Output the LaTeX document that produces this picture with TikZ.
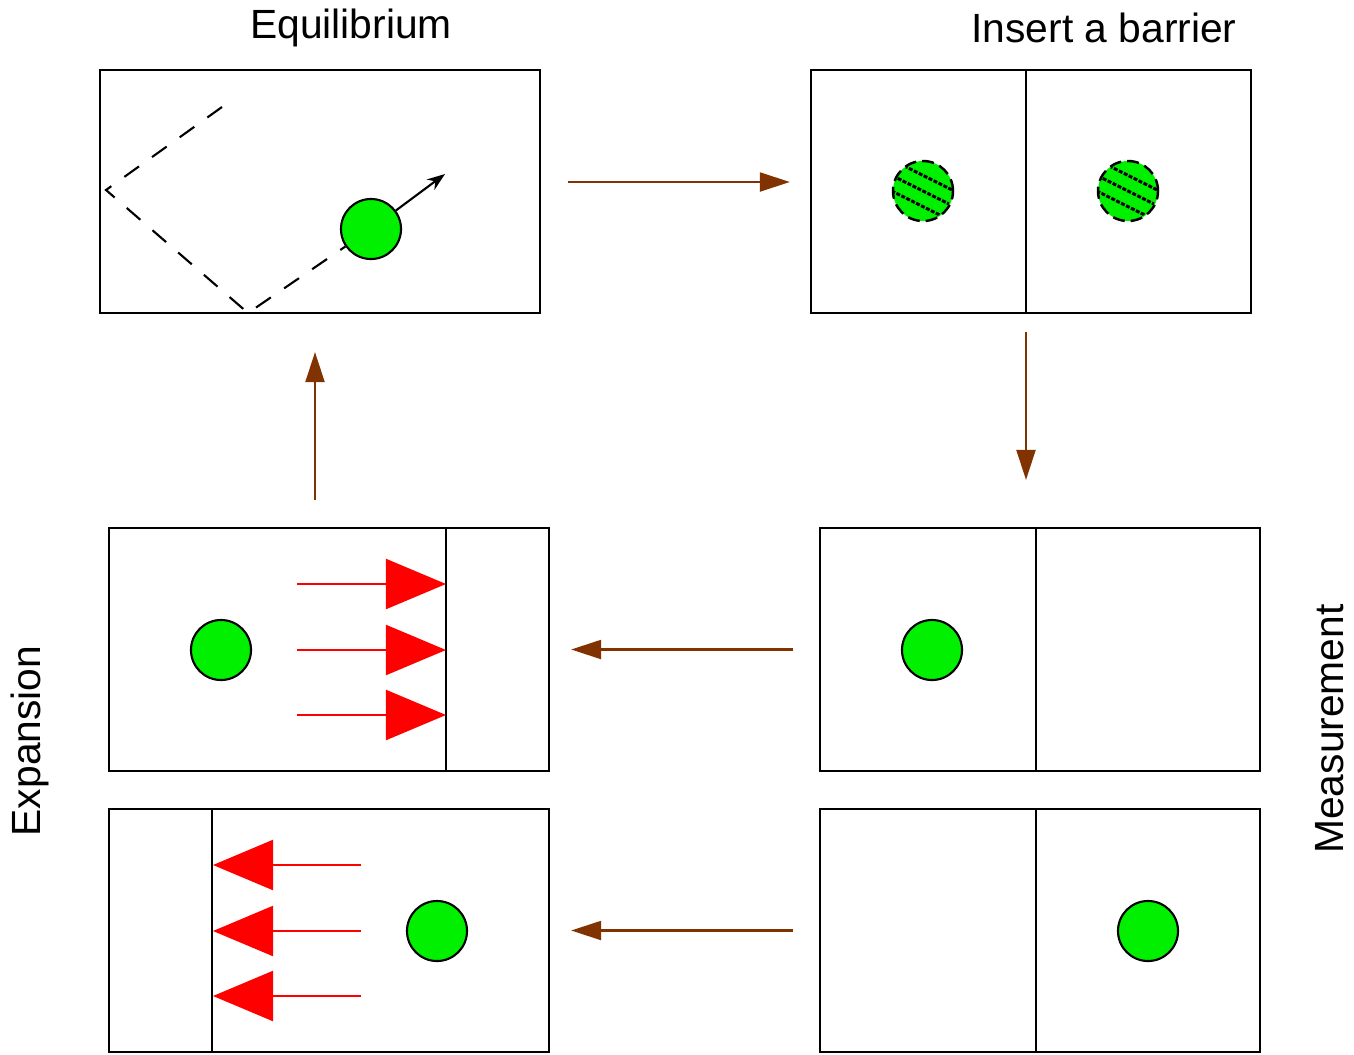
\documentclass[tikz,border=0pt]{standalone}
\usepackage{fontspec}
\setsansfont{Liberation Sans}
\usetikzlibrary{arrows.meta,positioning,calc}

\definecolor{ballgreen}{RGB}{0,240,0}
\definecolor{flowbrown}{RGB}{128,51,0}

\tikzset{
  box/.style={draw, line width=0.6pt, minimum width=4.4cm, minimum height=2.43cm, inner sep=0, outer sep=0},
  ball/.style={circle, draw, fill=ballgreen, line width=0.6pt, minimum size=0.6cm, inner sep=0},
  flow/.style={draw=flowbrown, line width=0.6pt, -{Triangle[length=0.3cm,width=0.19cm]}},
  push/.style={draw=red, line width=0.6pt, -{Triangle[length=0.6cm,width=0.5cm]}},
  track/.style={dash pattern=on 0.18cm off 0.16cm, line width=0.6pt},
  stripe/.style={dash pattern=on 0.04cm off 0.015cm, line width=0.85pt},
  caption/.style={font=\sffamily\fontsize{11.6}{13}\selectfont}
}

\begin{document}
\begin{tikzpicture}[x=0.01cm, y=-0.01cm]
\useasboundingbox (0,0) rectangle (1354,1054);

% the six boxes
\node[box] (equil) at (320,191.5) {};
\node[box] (barrier) at (1031,191.5) {};
\node[box] (expandR) at (329,649.5) {};
\node[box] (measL) at (1040,649.5) {};
\node[box] (expandL) at (329,930.5) {};
\node[box] (measR) at (1040,930.5) {};

% partitions
\coordinate (wallB) at (1026,313);
\draw[line width=0.6pt] (wallB |- barrier.north) -- (wallB);
\draw[line width=0.6pt] (1036,528) -- (1036,771);
\draw[line width=0.6pt] (1036,809) -- (1036,1052);
\draw[line width=0.6pt] (446,528) -- (446,771);
\draw[line width=0.6pt] (212,809) -- (212,1052);

% captions
\node[caption] (tEquil) at (351,28) {Equilibrium};
\node[caption] (tBarrier) at (1104,28) {Insert a barrier};
\node[caption, rotate=90] (tExpand) at (30,741) {Expansion};
\node[caption, rotate=90] (tMeasure) at (1330,729) {Measurement};

% free particle in the open box
\node[ball] (p0) at (371,229) {};
\draw[track] (222,107) -- (106,190) -- (248,313) -- (p0);
\coordinate (p0dir) at (445,174);
\draw[line width=0.6pt, -{Stealth[length=0.18cm,width=0.13cm]}] (p0) -- (p0dir);

% particle smeared over both halves
\foreach \name/\cx in {q1/923, q2/1128} {
  \node[ball, line width=0.7pt, dash pattern=on 0.12cm off 0.06cm] (\name) at (\cx,191) {};
  \begin{scope}
    \clip (\name.center) circle (29);
    \foreach \d in {-14,0,14}
      \draw[stripe] ($(\name.center)+(-0.447*\d,0.894*\d)+(-40,-20)$) -- ++(80,40);
  \end{scope}
}

% measured particles
\node[ball] (p1) at (932,650) {};
\node[ball] (p2) at (1148,931) {};
\node[ball] (p3) at (221,650) {};
\node[ball] (p4) at (437,931) {};

% gas pushing the partition
\foreach \y in {584,650,715}
  \draw[push] (297,\y) -- (446,\y);
\foreach \y in {865,931,996}
  \draw[push] (361,\y) -- (213,\y);

% cycle
\coordinate (backUp) at ($(expandR.north)+(-14,0)$);
\draw[flow, shorten <=0.28cm, shorten >=0.21cm] (equil.east |- 0,182) -- (barrier.west |- 0,182);
\draw[flow, shorten <=0.19cm, shorten >=0.48cm] (wallB) -- (wallB |- measL.north);
\draw[flow, shorten <=0.27cm, shorten >=0.22cm] (measL.west) -- (expandR.east);
\draw[flow, shorten <=0.27cm, shorten >=0.22cm] (measR.west) -- (expandL.east);
\draw[flow, shorten <=0.28cm, shorten >=0.39cm] (backUp) -- (backUp |- equil.south);
\end{tikzpicture}
\end{document}
